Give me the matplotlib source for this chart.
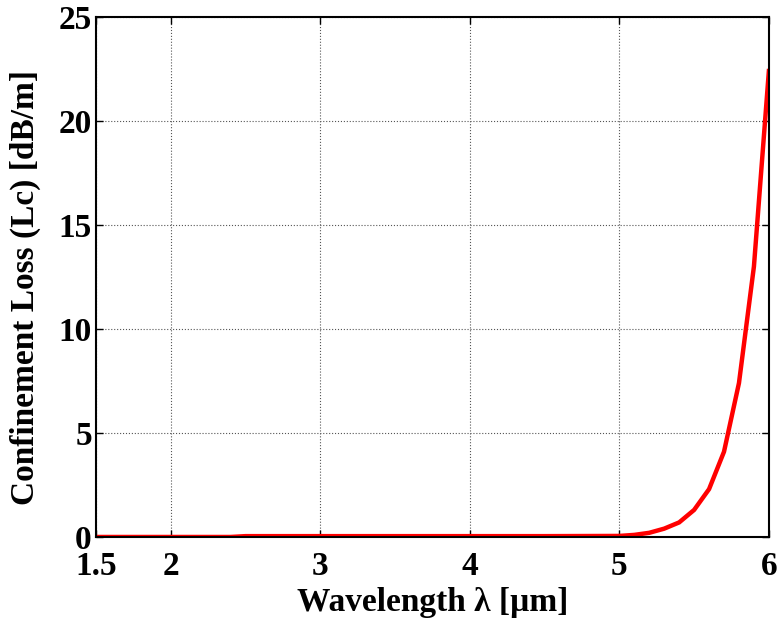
import matplotlib
matplotlib.use("Agg")
import matplotlib.pyplot as plt

wavelength = [1.5, 2.0, 2.4, 2.5, 3.0, 3.5, 4.0, 4.5, 5.0, 5.1, 5.2, 5.3, 5.4, 5.5, 5.6, 5.7, 5.8, 5.9, 6.0]
loss = [0.0, 0.0, 0.0, 0.04, 0.04, 0.04, 0.04, 0.04, 0.05, 0.1, 0.2, 0.4, 0.7, 1.3, 2.3, 4.1, 7.4, 13.0, 22.4]
xticks = [1.5, 2, 3, 4, 5, 6]
xticklabels = ["1.5", "2", "3", "4", "5", "6"]
yticks = [0, 5, 10, 15, 20, 25]

plt.rcParams['font.family'] = ['Liberation Serif', 'DejaVu Serif']
plt.rcParams['font.weight'] = 'bold'

fig = plt.figure(figsize=(7.79, 6.22), dpi=100)
ax = fig.add_axes([0.1232, 0.1367, 0.8638, 0.836])
ax.plot(wavelength, loss, color='#ff0000', lw=3.2, solid_joinstyle='miter')
ax.set_xlim(1.5, 6)
ax.set_ylim(0, 25)
ax.set_xticks(xticks)
ax.set_xticklabels(xticklabels)
ax.set_yticks(yticks)
ax.grid(True, color='#555555', linestyle=':', linewidth=0.8)
ax.tick_params(direction='in', top=True, right=True, length=5, width=1, labelsize=24)
ax.tick_params(axis='x', pad=10)
ax.tick_params(axis='y', pad=3)
for s in ax.spines.values():
    s.set_linewidth(1.5)
ax.set_xlabel('Wavelength λ [µm]', fontsize=24, fontweight='bold', labelpad=4)
ax.set_ylabel('Confinement Loss (Lc) [dB/m]', fontsize=24, fontweight='bold')
ax.yaxis.set_label_coords(-0.081, 0.48)
fig.savefig('out.png', dpi=100)
